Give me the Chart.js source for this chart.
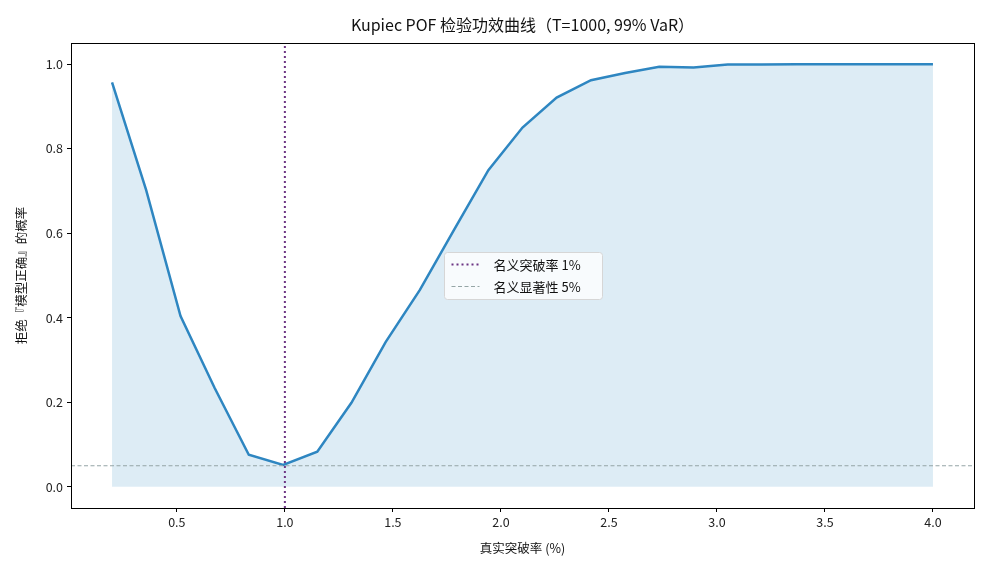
<!DOCTYPE html>
<html>
<head>
<meta charset="utf-8">
<script src="https://cdn.jsdelivr.net/npm/chart.js@4/dist/chart.umd.min.js"></script>
<style>
  html, body { margin: 0; padding: 0; background: #fff; }
  #wrap { width: 990px; height: 572px; }
</style>
</head>
<body>
<div id="wrap"><canvas id="c" width="990" height="572"></canvas></div>
<script>
// 真实突破率 (%)
const rates = [0.2, 0.358, 0.517, 0.675, 0.833, 0.992, 1.15, 1.308, 1.467, 1.625, 1.783, 1.942,
  2.1, 2.258, 2.417, 2.575, 2.733, 2.892, 3.05, 3.208, 3.367, 3.525, 3.683, 3.842, 4.0];
// 拒绝概率
const power = [0.957, 0.702, 0.404, 0.234, 0.076, 0.052, 0.083, 0.199, 0.343, 0.466, 0.608, 0.749,
  0.850, 0.921, 0.962, 0.979, 0.994, 0.992, 0.999, 0.999, 1.0, 1.0, 1.0, 1.0, 1.0];
const nominalRate = 1.0;
const nominalSig = 0.05;
const xTicks = [0.5, 1.0, 1.5, 2.0, 2.5, 3.0, 3.5, 4.0];
const yTicks = [0.0, 0.2, 0.4, 0.6, 0.8, 1.0];
const legendLabels = ["名义突破率 1%", "名义显著性 5%"];

const FONT = "'Noto Sans CJK SC', 'Noto Sans', sans-serif";
const BLUE = "#2e86c1";
const PURPLE = "#6c3483";
const GREY = "#95a5a6";

const frame = {
  id: "frame",
  afterDatasetsDraw(chart) {
    const { ctx, chartArea: a } = chart;
    ctx.save();
    ctx.strokeStyle = "#000";
    ctx.lineWidth = 1;
    ctx.strokeRect(a.left + 0.5, a.top + 0.5, a.right - a.left, a.bottom - a.top);
    // title
    ctx.fillStyle = "#111";
    ctx.font = "16px " + FONT;
    ctx.textAlign = "center";
    ctx.textBaseline = "middle";
    ctx.fillText("Kupiec POF 检验功效曲线（T=1000, 99% VaR）", (a.left + a.right) / 2, 25);
    // legend (matplotlib loc="center")
    const w = 158, h = 47;
    const cx = (a.left + a.right) / 2, cy = (a.top + a.bottom) / 2;
    const x0 = Math.round(cx - w / 2) + 0.5, y0 = Math.round(cy - h / 2) + 0.5;
    ctx.fillStyle = "rgba(255,255,255,0.8)";
    ctx.strokeStyle = "#d6d6d6";
    ctx.beginPath();
    ctx.roundRect(x0, y0, w, h, 3);
    ctx.fill();
    ctx.stroke();
    const styles = [
      { color: PURPLE, dash: [2, 3], width: 2 },
      { color: GREY, dash: [4, 2.5], width: 1.2 }
    ];
    legendLabels.forEach((lab, i) => {
      const y = y0 + 12 + i * 22;
      ctx.strokeStyle = styles[i].color;
      ctx.lineWidth = styles[i].width;
      ctx.setLineDash(styles[i].dash);
      ctx.beginPath();
      ctx.moveTo(x0 + 7, y);
      ctx.lineTo(x0 + 35, y);
      ctx.stroke();
      ctx.setLineDash([]);
      ctx.fillStyle = "#111";
      ctx.font = "13px " + FONT;
      ctx.textAlign = "left";
      ctx.fillText(lab, x0 + 49, y + 1);
    });
    ctx.restore();
  }
};

new Chart(document.getElementById("c"), {
  type: "line",
  data: {
    datasets: [
      {
        label: "power",
        data: rates.map((r, i) => ({ x: r, y: power[i] })),
        borderColor: BLUE,
        borderWidth: 2.5,
        backgroundColor: "rgba(46,134,193,0.16)",
        fill: "origin",
        pointRadius: 0,
        tension: 0,
        order: 3
      },
      {
        label: legendLabels[0],
        data: [{ x: nominalRate, y: -0.05 }, { x: nominalRate, y: 1.05 }],
        borderColor: PURPLE,
        borderWidth: 2,
        borderDash: [2, 3],
        pointRadius: 0,
        fill: false,
        order: 1
      },
      {
        label: legendLabels[1],
        data: [{ x: 0.01, y: nominalSig }, { x: 4.19, y: nominalSig }],
        borderColor: GREY,
        borderWidth: 1.2,
        borderDash: [4, 2.5],
        pointRadius: 0,
        fill: false,
        order: 2
      }
    ]
  },
  options: {
    responsive: false,
    animation: false,
    layout: { padding: { left: 10, top: 43, right: 16, bottom: 12 } },
    plugins: { legend: { display: false }, tooltip: { enabled: false }, title: { display: false } },
    scales: {
      x: {
        type: "linear",
        min: 0.01,
        max: 4.19,
        afterBuildTicks: (s) => { s.ticks = xTicks.map(v => ({ value: v })); },
        afterFit: (s) => { s.height = 52; },
        grid: { drawOnChartArea: false, tickLength: 4, color: "#000" },
        border: { display: true, color: "#000" },
        ticks: { color: "#222", font: { family: FONT, size: 12.5 }, padding: 3, maxRotation: 0,
          callback: (v) => Number(v).toFixed(1) },
        title: { display: true, text: "真实突破率 (%)", color: "#111", font: { family: FONT, size: 12.5 }, padding: { top: 2 } }
      },
      y: {
        type: "linear",
        min: -0.05,
        max: 1.05,
        afterBuildTicks: (s) => { s.ticks = yTicks.map(v => ({ value: v })); },
        afterFit: (s) => { s.width = 61; },
        grid: { drawOnChartArea: false, tickLength: 4, color: "#000" },
        border: { display: true, color: "#000" },
        ticks: { color: "#222", font: { family: FONT, size: 12.5 }, padding: 4,
          callback: (v) => Number(v).toFixed(1) },
        title: { display: true, text: "拒绝『模型正确』的概率", color: "#111", font: { family: FONT, size: 12.5 }, padding: { bottom: 4 } }
      }
    }
  },
  plugins: [frame]
});
</script>
</body>
</html>
